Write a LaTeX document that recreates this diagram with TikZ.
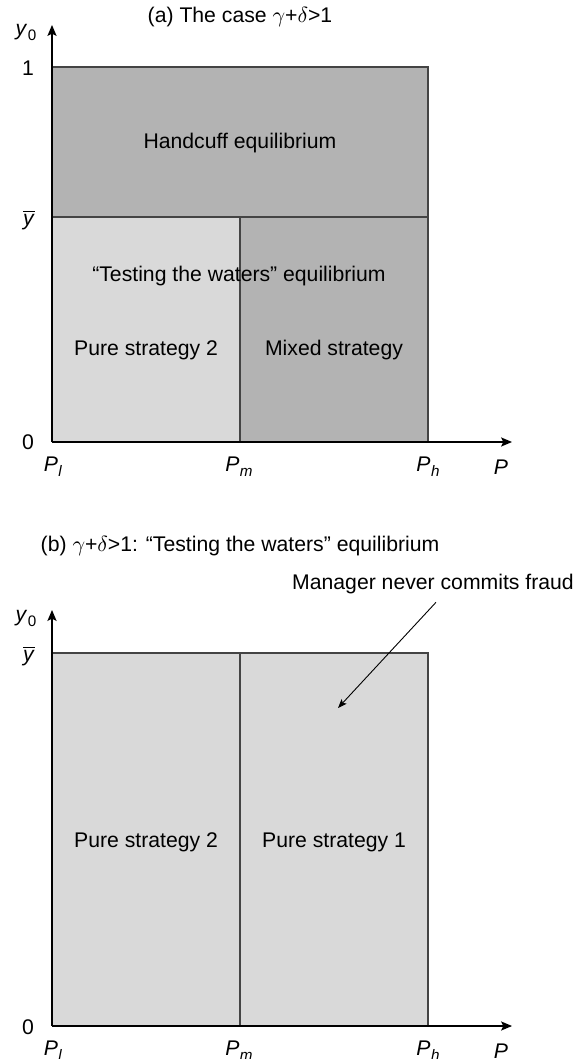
\documentclass[tikz,border=0pt]{standalone}
\usepackage{fontspec}
\setmainfont{Liberation Sans}
\usetikzlibrary{arrows.meta}
\newcommand\isub[2]{\textit{#1}\kern0.02em\raisebox{-0.45ex}{\fontsize{7.6}{8}\selectfont\textit{#2}}}
\newcommand\yzero{\textit{y}\kern0.02em\raisebox{-0.45ex}{\fontsize{7.6}{8}\selectfont 0}}
\newcommand\ybarlbl{$\overline{\mbox{\textit{y}}}$}
\newcommand\gd{$\gamma$+$\delta$>1}
\definecolor{darkfill}{HTML}{B3B3B3}
\definecolor{lightfill}{HTML}{D9D9D9}
\definecolor{edgegray}{HTML}{444444}
\begin{document}
\begin{tikzpicture}[x=0.5pt,y=-0.5pt,
  font=\fontsize{10.6}{12.7}\selectfont,
  lbl/.style={inner sep=0pt},
  region/.style={draw=edgegray, line width=0.55pt},
  axisline/.style={line width=0.55pt, -{Stealth[length=5.5pt,width=4.6pt,inset=1.2pt]}},
  callout/.style={line width=0.45pt, -{Stealth[length=4.5pt,width=3.4pt,inset=1pt]}}]
\useasboundingbox (0,0) rectangle (582,1059);

% ---------- panel (a) ----------
\fill[darkfill] (52,67) rectangle (428,217);
\fill[lightfill] (52,217) rectangle (240,442);
\fill[darkfill] (240,217) rectangle (428,442);
\draw[region] (52,67) -- (428,67) -- (428,442);
\draw[region] (52,217) -- (428,217);
\draw[region] (240,217) -- (240,442);

\coordinate (oa) at (52,442);
\coordinate (xa) at (512,442);
\coordinate (ya) at (52,25);
\draw[axisline] (oa) -- (xa);
\draw[axisline] (oa) -- (ya);

\node[lbl] (ta) at (240,17) {(a) The case \gd};
\node[lbl] (hand) at (240,143) {Handcuff equilibrium};
\node[lbl] (test) at (239,276) {“Testing the waters” equilibrium};
\node[lbl] (ps2a) at (146,350) {Pure strategy 2};
\node[lbl] (mixed) at (334,350) {Mixed strategy};
\node[lbl] (y0a) at (26,32) {\yzero};
\node[lbl] (onea) at (28,68) {1};
\node[lbl] (ybara) at (29,220) {\ybarlbl};
\node[lbl] (zeroa) at (28,442) {0};
\node[lbl] (pla) at (53,467) {\isub{P}{l}};
\node[lbl] (pma) at (239,467) {\isub{P}{m}};
\node[lbl] (pha) at (428,467) {\isub{P}{h}};
\node[lbl] (pa) at (501,467) {\textit{P}};

% ---------- panel (b) ----------
\fill[lightfill] (52,653) rectangle (428,1026);
\draw[region] (52,653) -- (428,653) -- (428,1026);
\draw[region] (240,653) -- (240,1026);

\coordinate (ob) at (52,1026);
\coordinate (xb) at (512,1026);
\coordinate (yb) at (52,610);
\draw[axisline] (ob) -- (xb);
\draw[axisline] (ob) -- (yb);

\node[lbl] (tb) at (240,546) {(b) \gd: “Testing the waters” equilibrium};
\node[lbl] (mgr) at (433,584) {Manager never commits fraud};
\node[lbl] (ps2b) at (146,842) {Pure strategy 2};
\node[lbl] (ps1b) at (334,842) {Pure strategy 1};
\node[lbl] (y0b) at (26,618) {\yzero};
\node[lbl] (ybarb) at (29,656) {\ybarlbl};
\node[lbl] (zerob) at (28,1027) {0};
\node[lbl] (plb) at (53,1051) {\isub{P}{l}};
\node[lbl] (pmb) at (239,1051) {\isub{P}{m}};
\node[lbl] (phb) at (428,1051) {\isub{P}{h}};
\node[lbl] (pb) at (501,1051) {\textit{P}};

\coordinate (arre) at (338,708);
\draw[callout] ([xshift=1.5pt,yshift=-4pt]mgr.south) -- (arre);
\end{tikzpicture}
\end{document}
